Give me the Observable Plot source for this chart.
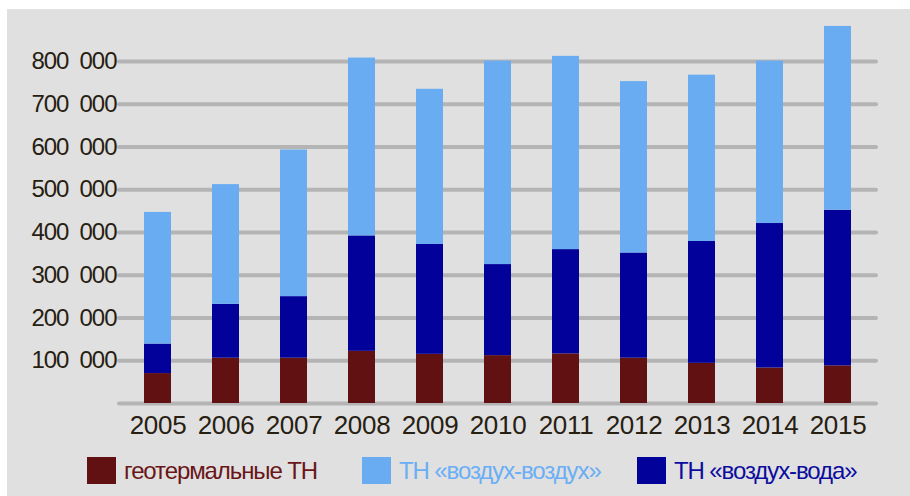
<!DOCTYPE html>
<html>
<head>
<meta charset="utf-8">
<script src="https://cdn.jsdelivr.net/npm/d3@7"></script>
<script src="https://cdn.jsdelivr.net/npm/@observablehq/plot@0.6"></script>
<style>
  html, body { margin: 0; padding: 0; background: #ffffff; }
  #wrap { position: absolute; left: 7px; top: 9px; width: 903px; height: 487px; background: #e0e0e0; overflow: hidden;
          font-family: "Liberation Sans", Arial, sans-serif; }
  #chart svg { display: block; }
  #chart svg g[aria-label="y-axis tick label"] text { letter-spacing: -1px; }
  #chart svg g[aria-label="x-axis tick label"] text { letter-spacing: -0.3px; }
  #legend { position: absolute; left: 0; top: 448px; width: 903px; height: 30px; }
  .item { position: absolute; top: 0; display: flex; align-items: center; height: 27px; font-size: 24px; letter-spacing: -1.1px; }
  .sw { width: 29px; height: 27px; margin-right: 8px; flex: none; }
</style>
</head>
<body>
<div id="wrap">
  <div id="chart"></div>
  <div id="legend"></div>
</div>
<script>
const years = [2005, 2006, 2007, 2008, 2009, 2010, 2011, 2012, 2013, 2014, 2015];
const seriesNames = ["геотермальные ТН", "ТН «воздух-вода»", "ТН «воздух-воздух»"];
const geothermal = [70000, 106000, 106000, 122000, 115000, 112000, 116000, 106000, 94000, 83000, 88000];
const airWater  = [69000, 126000, 144000, 270000, 257000, 213000, 244000, 246000, 285000, 338000, 364000];
const airAir    = [308000, 280000, 343000, 416000, 363000, 476000, 452000, 401000, 389000, 380000, 430000];
const seriesColors = ["#611112", "#02029a", "#69acf2"];
const legendOrder = ["геотермальные ТН", "ТН «воздух-воздух»", "ТН «воздух-вода»"];
const legendTextColors = {"геотермальные ТН": "#6a1618", "ТН «воздух-воздух»": "#6aaef5", "ТН «воздух-вода»": "#0c0c9e"};
const gridTicks = [0, 100000, 200000, 300000, 400000, 500000, 600000, 700000, 800000];
const labelTicks = [100000, 200000, 300000, 400000, 500000, 600000, 700000, 800000];

const seriesValues = [geothermal, airWater, airAir];
const rows = [];
seriesNames.forEach((s, i) => years.forEach((y, j) => rows.push({year: y, series: s, value: seriesValues[i][j]})));

const fmt = d => d3.format(",")(d).replace(",", "\u2002");

const chart = Plot.plot({
  width: 903,
  height: 440,
  marginLeft: 110,
  marginRight: 32,
  marginTop: 9.25,
  marginBottom: 46,
  style: {background: "transparent", fontFamily: "'Liberation Sans', Arial, sans-serif", overflow: "visible"},
  x: {type: "band", domain: years, paddingInner: 0.607, paddingOuter: 0.338, label: null},
  y: {domain: [0, 900000], label: null},
  color: {domain: seriesNames, range: seriesColors},
  marks: [
    Plot.ruleY(gridTicks, {stroke: "#b4b4b4", strokeWidth: 4, strokeLinecap: "round", insetLeft: 2, insetRight: 2}),
    Plot.barY(rows, {x: "year", y: "value", fill: "series", order: seriesNames}),
    Plot.axisX({tickSize: 0, tickPadding: 12, fontSize: 26, fill: "#272012", tickFormat: d => String(d), label: null}),
    Plot.axisY(labelTicks, {tickSize: 0, tickPadding: 1, fontSize: 24, fill: "#272012", tickFormat: fmt, label: null})
  ]
});
document.getElementById("chart").appendChild(chart);

const legend = document.getElementById("legend");
const lefts = [80, 355, 630];
legendOrder.forEach((name, i) => {
  const item = document.createElement("div");
  item.className = "item";
  item.style.left = lefts[i] + "px";
  const sw = document.createElement("span");
  sw.className = "sw";
  sw.style.background = seriesColors[seriesNames.indexOf(name)];
  const t = document.createElement("span");
  t.textContent = name;
  t.style.color = legendTextColors[name];
  item.appendChild(sw);
  item.appendChild(t);
  legend.appendChild(item);
});
</script>
</body>
</html>
